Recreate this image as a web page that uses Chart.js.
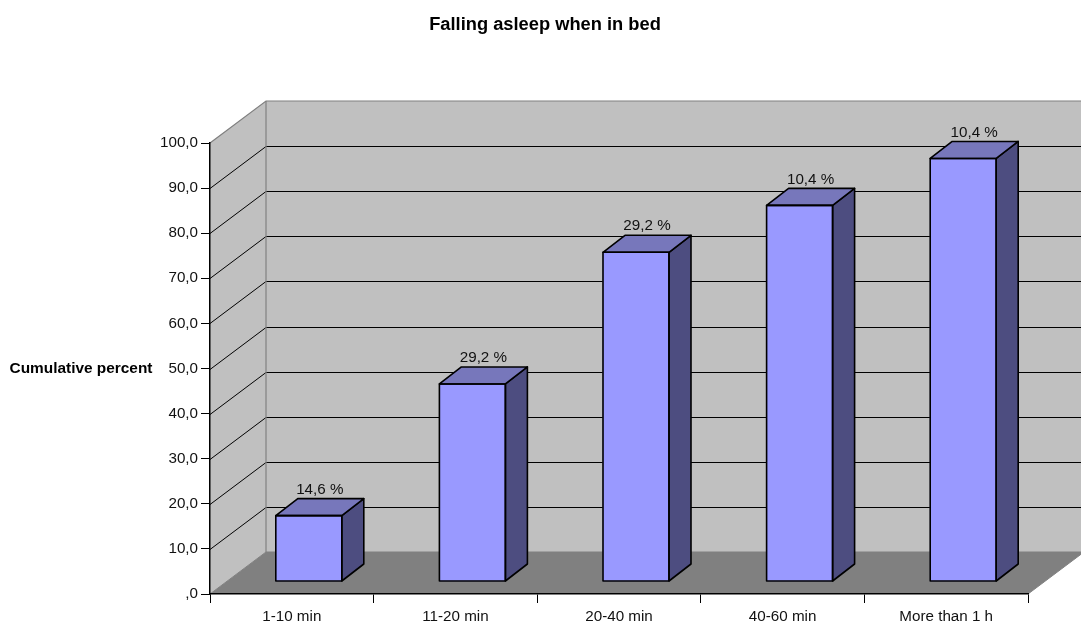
<!DOCTYPE html>
<html><head><meta charset="utf-8">
<style>html,body{margin:0;padding:0;background:#fff}canvas{display:block}</style>
<script src="https://cdn.jsdelivr.net/npm/chart.js@4"></script>
</head><body>
<div style="width:1081px;height:624px"><canvas id="c" width="1081" height="624"></canvas></div>
<script>
const categories = ['1-10 min','11-20 min','20-40 min','40-60 min','More than 1 h'];
const cumulative = [14.6,43.8,73.0,83.4,93.8];
const barLabels = ['14,6 %','29,2 %','29,2 %','10,4 %','10,4 %'];
const titleText = 'Falling asleep when in bed';
const yTitleText = 'Cumulative percent';

const FONT = '"Liberation Sans", Arial, sans-serif';
const WALL = {dx:56, dy:-42};       // back wall offset from the front plane
const BAR_SHIFT = {dx:17, dy:-12.5};// bar front face offset from the front plane
const BAR_DEPTH = {dx:22, dy:-17};  // bar depth

function poly(ctx, pts, fill, stroke, lw){
  ctx.beginPath();
  pts.forEach((p,i)=> i?ctx.lineTo(p[0],p[1]):ctx.moveTo(p[0],p[1]));
  ctx.closePath();
  if(fill){ctx.fillStyle=fill;ctx.fill();}
  if(stroke){ctx.strokeStyle=stroke;ctx.lineWidth=lw;ctx.lineJoin='round';ctx.stroke();}
}

const room3d = {
  id:'room3d',
  beforeDraw(chart){
    const {ctx,chartArea:a,scales:{y}} = chart;
    const b=a.bottom,t=a.top,l=a.left,r=a.right,dx=WALL.dx,dy=WALL.dy;
    ctx.save();
    poly(ctx,[[l,t],[l+dx,t+dy],[r+dx,t+dy],[r+dx,b+dy],[l+dx,b+dy],[l,b]],'#C0C0C0');
    poly(ctx,[[l,b],[l+dx,b+dy],[r+dx,b+dy],[r,b]],'#808080');
    ctx.strokeStyle='#000';ctx.lineWidth=1;
    y.ticks.forEach(tk=>{
      if(tk.value===0||tk.value===100) return;
      const py=Math.round(y.getPixelForValue(tk.value))+0.5;
      ctx.beginPath();ctx.moveTo(l,py);ctx.lineTo(l+dx,py+dy);ctx.lineTo(r+dx,py+dy);ctx.stroke();
    });
    ctx.strokeStyle='#808080';ctx.lineWidth=1.2;
    ctx.beginPath();ctx.moveTo(l,t);ctx.lineTo(l+dx,t+dy);ctx.lineTo(r+dx,t+dy);ctx.stroke();
    ctx.beginPath();ctx.moveTo(l+dx,t+dy);ctx.lineTo(l+dx,b+dy);ctx.stroke();
    ctx.lineWidth=1;
    ctx.beginPath();ctx.moveTo(l,b);ctx.lineTo(l+dx,b+dy);ctx.lineTo(r+dx,b+dy);ctx.stroke();
    ctx.beginPath();ctx.moveTo(r,b);ctx.lineTo(r+dx,b+dy);ctx.stroke();
    ctx.restore();
  },
  afterDatasetsDraw(chart){
    const {ctx} = chart;
    const meta = chart.getDatasetMeta(0);
    const sx=BAR_SHIFT.dx, sy=BAR_SHIFT.dy, dx=BAR_DEPTH.dx, dy=BAR_DEPTH.dy;
    ctx.save();
    ctx.textAlign='center';ctx.textBaseline='middle';
    ctx.font='15.2px '+FONT;
    meta.data.forEach((bar,i)=>{
      const L=bar.x-bar.width/2+sx, R=bar.x+bar.width/2+sx, T=bar.y+sy, B=bar.base+sy;
      poly(ctx,[[R,T],[R+dx,T+dy],[R+dx,B+dy],[R,B]],'#4D4D80','#000',1.6);
      poly(ctx,[[L,T],[L+dx,T+dy],[R+dx,T+dy],[R,T]],'#7777BB','#000',1.6);
      poly(ctx,[[L,T],[R,T],[R,B],[L,B]],null,'#000',1.6);
      ctx.fillStyle='#111';
      ctx.fillText(barLabels[i],(L+R)/2+dx/2,T+dy-9);
    });
    ctx.restore();
  },
  afterDraw(chart){
    const {ctx,scales:{y}} = chart;
    ctx.save();
    ctx.fillStyle='#000';ctx.textBaseline='middle';ctx.textAlign='center';
    ctx.font='bold 18.3px '+FONT;
    ctx.fillText(titleText,545,24.5);
    ctx.font='bold 15.4px '+FONT;
    ctx.fillText(yTitleText,81,y.getPixelForValue(50)+0.5);
    ctx.restore();
  }
};

// shift the library's own bars onto the mid-depth plane
const barShift = {
  id:'barShift',
  beforeDatasetDraw(chart){chart.ctx.save();chart.ctx.translate(BAR_SHIFT.dx,BAR_SHIFT.dy);},
  afterDatasetDraw(chart){chart.ctx.restore();}
};

new Chart(document.getElementById('c'),{
  type:'bar',
  data:{labels:categories,datasets:[{
    data:cumulative,backgroundColor:'#9999FF',borderWidth:0,barThickness:66,clip:false
  }]},
  options:{
    responsive:false,animation:false,
    layout:{padding:{top:143,right:53,left:0,bottom:0}},
    plugins:{legend:{display:false},tooltip:{enabled:false},title:{display:false}},
    scales:{
      y:{min:0,max:100,
        afterFit(s){s.width=210;},
        ticks:{stepSize:10,color:'#111',padding:3,font:{family:FONT,size:15.2},
          callback:v=>v===0?',0':v.toFixed(1).replace('.',',')},
        grid:{drawOnChartArea:false,color:'#000',tickLength:9,tickColor:'#000'},
        border:{display:true,color:'#000',width:1.5}},
      x:{
        afterFit(s){s.height=30;},
        ticks:{color:'#111',padding:5,maxRotation:0,font:{family:FONT,size:15.2}},
        grid:{drawOnChartArea:false,offset:true,color:'#000',tickLength:9,tickColor:'#000'},
        border:{display:true,color:'#000',width:1.5}}
    }
  },
  plugins:[room3d,barShift]
});
</script>
</body></html>
